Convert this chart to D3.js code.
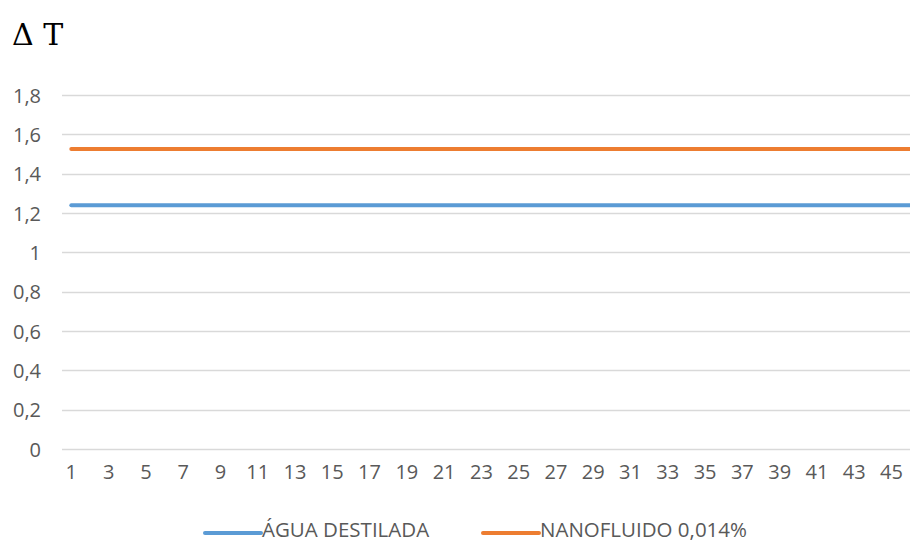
<!DOCTYPE html>
<html>
<head>
<meta charset="utf-8">
<script src="https://cdn.jsdelivr.net/npm/d3@7"></script>
<style>
  body { margin: 0; background: #fff; }
  .tick text { font-family: "Open Sans", sans-serif; fill: #595959; }
</style>
</head>
<body>
<div id="chart"></div>
<script>
// chart data
const categories = [1, 2, 3, 4, 5, 6, 7, 8, 9, 10, 11, 12, 13, 14, 15, 16, 17, 18, 19, 20,
  21, 22, 23, 24, 25, 26, 27, 28, 29, 30, 31, 32, 33, 34, 35, 36, 37, 38, 39, 40,
  41, 42, 43, 44, 45, 46];
const aguaValues = [1.24, 1.24, 1.24, 1.24, 1.24, 1.24, 1.24, 1.24, 1.24, 1.24,
  1.24, 1.24, 1.24, 1.24, 1.24, 1.24, 1.24, 1.24, 1.24, 1.24,
  1.24, 1.24, 1.24, 1.24, 1.24, 1.24, 1.24, 1.24, 1.24, 1.24,
  1.24, 1.24, 1.24, 1.24, 1.24, 1.24, 1.24, 1.24, 1.24, 1.24,
  1.24, 1.24, 1.24, 1.24, 1.24, 1.24];
const nanoValues = [1.525, 1.525, 1.525, 1.525, 1.525, 1.525, 1.525, 1.525, 1.525, 1.525,
  1.525, 1.525, 1.525, 1.525, 1.525, 1.525, 1.525, 1.525, 1.525, 1.525,
  1.525, 1.525, 1.525, 1.525, 1.525, 1.525, 1.525, 1.525, 1.525, 1.525,
  1.525, 1.525, 1.525, 1.525, 1.525, 1.525, 1.525, 1.525, 1.525, 1.525,
  1.525, 1.525, 1.525, 1.525, 1.525, 1.525];
const yTicks = [0, 0.2, 0.4, 0.6, 0.8, 1, 1.2, 1.4, 1.6, 1.8];
const seriesNames = ["ÁGUA DESTILADA", "NANOFLUIDO 0,014%"];
const seriesColors = ["#5b9bd5", "#ed7d31"];

const width = 910, height = 543;
const plot = { left: 62, top: 95, bottom: 449, bandW: 18.64 };

const svg = d3.select("#chart").append("svg")
  .attr("width", width)
  .attr("height", height);

const x = d3.scaleBand()
  .domain(categories)
  .range([plot.left, plot.left + plot.bandW * categories.length]);

const y = d3.scaleLinear()
  .domain([0, 1.8])
  .range([plot.bottom, plot.top]);

const fmt = (d) => String(d).replace(".", ",");

// gridlines
svg.append("g")
  .selectAll("line")
  .data(yTicks)
  .join("line")
  .attr("x1", plot.left)
  .attr("x2", width)
  .attr("y1", (d) => Math.round(y(d)) + 0.5)
  .attr("y2", (d) => Math.round(y(d)) + 0.5)
  .attr("stroke", "#d9d9d9")
  .attr("stroke-width", 1.3);

// y axis labels
const yAxis = svg.append("g")
  .attr("transform", `translate(${plot.left - 21},0)`)
  .call(d3.axisLeft(y).tickValues(yTicks).tickFormat(fmt).tickSize(0).tickPadding(0));
yAxis.select(".domain").remove();
yAxis.selectAll("text").attr("font-size", 20).attr("dy", "0.35em");

// x axis labels
const xAxis = svg.append("g")
  .attr("transform", `translate(0,${plot.bottom + 22})`)
  .call(d3.axisBottom(x)
    .tickValues(categories.filter((d) => d % 2 === 1))
    .tickSize(0).tickPadding(0));
xAxis.select(".domain").remove();
xAxis.selectAll("text").attr("font-size", 20).attr("dy", "0.4em");

// series lines
const line = d3.line()
  .x((d, i) => x(categories[i]) + x.bandwidth() / 2)
  .y((d) => y(d));

[aguaValues, nanoValues].forEach((vals, i) => {
  svg.append("path")
    .datum(vals)
    .attr("d", line)
    .attr("fill", "none")
    .attr("stroke", seriesColors[i])
    .attr("stroke-width", 4)
    .attr("stroke-linecap", "round");
});

// title
svg.append("text")
  .attr("x", 12)
  .attr("y", 45)
  .attr("font-family", "'DejaVu Serif', 'Liberation Serif', serif")
  .attr("font-size", 30)
  .attr("fill", "#000")
  .text("Δ T");

// legend
const legendX = [205, 483];
const legend = svg.append("g")
  .selectAll("g")
  .data(seriesNames)
  .join("g")
  .attr("transform", (d, i) => `translate(${legendX[i]},533)`);

legend.append("line")
  .attr("x1", 0)
  .attr("x2", 56)
  .attr("stroke", (d, i) => seriesColors[i])
  .attr("stroke-width", 4)
  .attr("stroke-linecap", "round");

legend.append("text")
  .attr("x", 57)
  .attr("y", 4)
  .attr("font-family", "'Open Sans', sans-serif")
  .attr("font-size", 20.5)
  .attr("fill", "#595959")
  .text((d) => d);
</script>
</body>
</html>
